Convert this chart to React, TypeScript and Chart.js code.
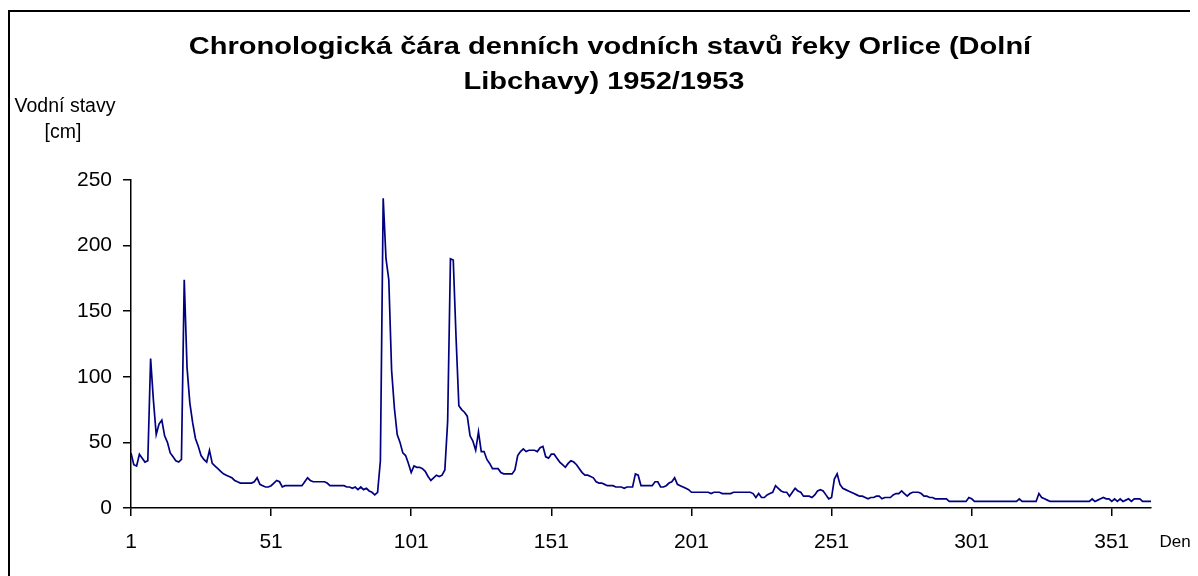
import React, { useEffect, useRef } from "react";
import { Chart, registerables } from "chart.js";

Chart.register(...registerables);

const TITLE_LINES = [
  "Chronologická čára denních vodních stavů řeky Orlice (Dolní",
  "Libchavy) 1952/1953",
];
const Y_LABEL_LINES = ["Vodní stavy", "[cm]"];
const X_LABEL = "Den";
const X_TICKS = [1, 51, 101, 151, 201, 251, 301, 351];
const Y_MIN = 0;
const Y_MAX = 250;
const Y_STEP = 50;

// Daily water levels [cm], day 1 .. 365
const WATER_LEVELS = [
  42, 33, 32, 41, 38, 35, 36, 114, 82, 56,
  64, 67, 55, 50, 42, 39, 36, 35, 37, 174,
  107, 80, 65, 53, 47, 40, 37, 35, 44, 34,
  32, 30, 28, 26, 25, 24, 23, 21, 20, 19,
  19, 19, 19, 19, 20, 23, 18, 17, 16, 16,
  17, 19, 21, 20, 16, 17, 17, 17, 17, 17,
  17, 17, 20, 23, 21, 20, 20, 20, 20, 20,
  19, 17, 17, 17, 17, 17, 17, 16, 16, 15,
  16, 14, 16, 14, 15, 13, 12, 10, 12, 36,
  236, 190, 174, 105, 76, 56, 50, 42, 40, 34,
  27, 32, 31, 31, 30, 28, 24, 21, 23, 25,
  24, 25, 29, 66, 190, 189, 130, 78, 75, 73,
  70, 55, 51, 44, 58, 43, 43, 37, 34, 30,
  30, 30, 27, 26, 26, 26, 26, 29, 40, 43,
  45, 43, 44, 44, 44, 43, 46, 47, 39, 38,
  41, 41, 38, 35, 33, 31, 34, 36, 35, 33,
  30, 27, 25, 25, 24, 23, 20, 19, 19, 18,
  17, 17, 17, 16, 16, 16, 15, 16, 16, 16,
  26, 25, 17, 17, 17, 17, 17, 20, 20, 16,
  16, 17, 19, 20, 23, 18, 17, 16, 15, 14,
  12, 12, 12, 12, 12, 12, 12, 11, 12, 12,
  12, 11, 11, 11, 11, 12, 12, 12, 12, 12,
  12, 12, 11, 8, 11, 8, 8, 10, 11, 12,
  17, 15, 13, 12, 12, 9, 12, 15, 13, 12,
  9, 9, 9, 8, 10, 13, 14, 13, 10, 7,
  8, 22, 26, 18, 15, 14, 13, 12, 11, 10,
  9, 9, 8, 7, 8, 8, 9, 9, 7, 8,
  8, 8, 10, 11, 11, 13, 11, 9, 11, 12,
  12, 12, 11, 9, 9, 8, 8, 7, 7, 7,
  7, 7, 5, 5, 5, 5, 5, 5, 5, 8,
  7, 5, 5, 5, 5, 5, 5, 5, 5, 5,
  5, 5, 5, 5, 5, 5, 5, 7, 5, 5,
  5, 5, 5, 5, 11, 8, 7, 6, 5, 5,
  5, 5, 5, 5, 5, 5, 5, 5, 5, 5,
  5, 5, 5, 7, 5, 6, 7, 8, 7, 7,
  5, 7, 5, 7, 5, 6, 7, 5, 7, 7,
  7, 5, 5, 5, 5,
];
const DAYS = WATER_LEVELS.map((_, i) => i + 1);

const FONT = "'Liberation Sans', Arial, sans-serif";

function stretchedText(
  ctx: CanvasRenderingContext2D,
  text: string,
  x: number,
  y: number,
  sx: number
) {
  ctx.save();
  ctx.translate(x, y);
  ctx.scale(sx, 1);
  ctx.fillText(text, 0, 0);
  ctx.restore();
}

const decorations = {
  id: "decorations",
  afterDraw(chart: any) {
    const ctx = chart.ctx as CanvasRenderingContext2D;
    const w = chart.width;
    ctx.save();
    // outer frame
    ctx.strokeStyle = "#000";
    ctx.lineWidth = 2;
    ctx.beginPath();
    ctx.moveTo(1, chart.height + 10);
    ctx.lineTo(1, 3);
    ctx.lineTo(w - 2, 3);
    ctx.lineTo(w - 2, chart.height + 10);
    ctx.stroke();

    ctx.fillStyle = "#000";
    ctx.textBaseline = "middle";
    ctx.textAlign = "center";
    ctx.font = `bold 24px ${FONT}`;
    stretchedText(ctx, TITLE_LINES[0], 602, 39, 1.21);
    stretchedText(ctx, TITLE_LINES[1], 596, 74, 1.21);

    ctx.font = `19.5px ${FONT}`;
    ctx.fillText(Y_LABEL_LINES[0], 57, 99);
    ctx.fillText(Y_LABEL_LINES[1], 55, 125);

    ctx.font = `17px ${FONT}`;
    ctx.fillText(X_LABEL, 1167, 534);
    ctx.restore();
  },
};

export default function App() {
  const ref = useRef<HTMLCanvasElement>(null);
  useEffect(() => {
    if (!ref.current) return;
    const chart = new Chart(ref.current, {
      type: "line",
      data: {
        datasets: [
          {
            data: DAYS.map((d, i) => ({ x: d, y: WATER_LEVELS[i] })),
            borderColor: "#000080",
            borderWidth: 1.7,
            pointRadius: 0,
            tension: 0,
            fill: false,
          },
        ],
      },
      options: {
        responsive: false,
        animation: false,
        plugins: {
          legend: { display: false },
          title: { display: false },
          tooltip: { enabled: false },
        },
        layout: { padding: { left: 0, top: 172, right: 47, bottom: 0 } },
        scales: {
          x: {
            type: "linear",
            min: 1,
            max: DAYS.length,
            afterBuildTicks: (s: any) => {
              s.ticks = X_TICKS.map((v) => ({ value: v }));
            },
            afterFit: (s: any) => {
              s.height = 68;
            },
            grid: {
              drawOnChartArea: false,
              drawTicks: true,
              tickLength: 8,
              color: "#000",
              lineWidth: 1.5,
            },
            border: { display: true, color: "#000", width: 1.5 },
            ticks: {
              color: "#000",
              font: { family: FONT, size: 21 },
              padding: 14,
              maxRotation: 0,
              autoSkip: false,
              callback: (v: any) => String(v),
            },
          },
          y: {
            min: Y_MIN,
            max: Y_MAX,
            afterFit: (s: any) => {
              s.width = 123;
            },
            grid: {
              drawOnChartArea: false,
              drawTicks: true,
              tickLength: 8,
              color: "#000",
              lineWidth: 1.5,
            },
            border: { display: true, color: "#000", width: 1.5 },
            ticks: {
              stepSize: Y_STEP,
              color: "#000",
              font: { family: FONT, size: 21 },
              padding: 11,
            },
          },
        },
      },
      plugins: [decorations],
    });
    return () => chart.destroy();
  }, []);
  return (
    <canvas
      ref={ref}
      width={1190}
      height={568}
      style={{ display: "block", width: 1190, height: 568 }}
    />
  );
}
